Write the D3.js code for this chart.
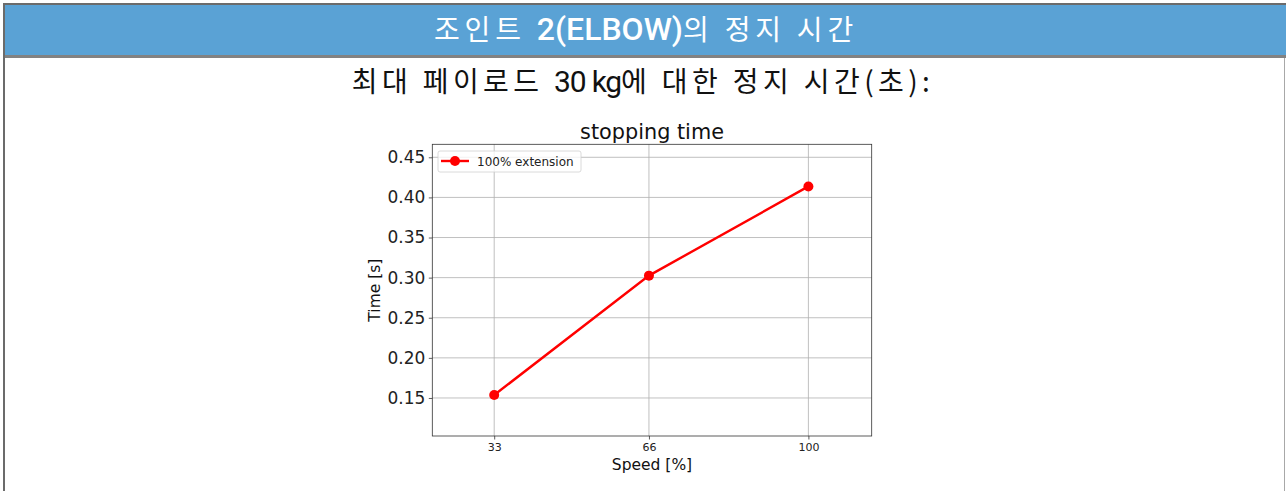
<!DOCTYPE html>
<html><head><meta charset="utf-8">
<script src="https://cdn.jsdelivr.net/npm/d3@7"></script>
<style>
html,body{margin:0;padding:0;background:#fff;overflow:hidden;}
</style></head>
<body>
<svg id="c" width="1286" height="491"></svg>
<script>
// header title pieces (Korean runs / Latin run)
const headerRuns = [["조인트 ", "ko"], ["2(ELBOW)", "la"], ["의 정지 시간", "ko"]];
const subRuns = [["최대 페이로드 ", "ko"], ["30 kg", "la"], ["에 대한 정지 시간(초):", "ko"]];
const chartTitle = "stopping time";
const speeds = [33, 66, 100];
const times = [0.1537, 0.3025, 0.4137];
const seriesName = "100% extension";
const yTicks = [0.15, 0.20, 0.25, 0.30, 0.35, 0.40, 0.45];
const xLabel = "Speed [%]";
const yLabel = "Time [s]";

const svg = d3.select("#c");
// page frame
svg.append("rect").attr("x",3).attr("y",3).attr("width",1283).attr("height",2).attr("fill","#6b6b6b");
svg.append("rect").attr("x",5).attr("y",5).attr("width",1281).attr("height",50).attr("fill","#5aa2d5");
svg.append("rect").attr("x",3).attr("y",55).attr("width",1283).attr("height",3).attr("fill","#828282");
svg.append("rect").attr("x",3).attr("y",3).attr("width",2).attr("height",488).attr("fill","#6b6b6b");
svg.append("rect").attr("x",1284).attr("y",58).attr("width",1).attr("height",433).attr("fill","#a8a8a8");

function runs(sel, data, opt) {
  sel.selectAll("tspan").data(data).join("tspan")
    .attr("font-family", d => d[1]==="ko" ? "'Noto Sans CJK KR', sans-serif" : "Roboto, sans-serif")
    .attr("font-size", d => d[1]==="ko" ? opt.ko : opt.la)
    .attr("font-weight", d => d[1]==="ko" ? 400 : opt.laW)
    .attr("letter-spacing", d => d[1]==="ko" ? opt.koLs : opt.laLs)
    .text(d => d[0]);
}
const ht = svg.append("text").attr("x",646).attr("y",40).attr("text-anchor","middle").attr("fill","#fff");
runs(ht, headerRuns, {ko:28, la:32, laW:500, koLs:4.8, laLs:0});
const st = svg.append("text").attr("x",643).attr("y",92).attr("text-anchor","middle").attr("fill","#111");
runs(st, subRuns, {ko:28, la:30, laW:400, koLs:4.4, laLs:-1.2});

// chart
const L=432.3, R=871.7, T=144.3, B=436;
const x = d3.scaleLinear().domain([19.8,113.5]).range([L,R]);
const y = d3.scaleLinear().domain([0.1026,0.4662]).range([B,T]);
const g = svg.append("g").attr("font-family","'DejaVu Sans', sans-serif");

// grid
g.selectAll(".gx").data(speeds).join("line").attr("x1",d=>x(d)).attr("x2",d=>x(d))
  .attr("y1",T).attr("y2",B).attr("stroke","#b0b0b0").attr("stroke-width",0.8);
g.selectAll(".gy").data(yTicks).join("line").attr("y1",d=>y(d)).attr("y2",d=>y(d))
  .attr("x1",L).attr("x2",R).attr("stroke","#b0b0b0").attr("stroke-width",0.8);

// axes
const yAxis = d3.axisLeft(y).tickValues(yTicks).tickFormat(d3.format(".2f")).tickSize(3.5).tickPadding(3.5);
const ya = g.append("g").attr("transform",`translate(${L},0)`).call(yAxis);
ya.select(".domain").remove();
ya.selectAll("line").attr("stroke","#333").attr("stroke-width",0.8);
ya.selectAll("text").attr("font-size",17).attr("fill","#222").attr("font-family","'DejaVu Sans', sans-serif");

const xAxis = d3.axisBottom(x).tickValues(speeds).tickFormat(d3.format("d")).tickSize(3.5).tickPadding(3.5);
const xa = g.append("g").attr("transform",`translate(0,${B})`).call(xAxis);
xa.select(".domain").remove();
xa.selectAll("line").attr("stroke","#333").attr("stroke-width",0.8);
xa.selectAll("text").attr("font-size",11).attr("fill","#222").attr("font-family","'DejaVu Sans', sans-serif");

g.append("rect").attr("x",L).attr("y",T).attr("width",R-L).attr("height",B-T)
  .attr("fill","none").attr("stroke","#333").attr("stroke-width",0.8);

// line
const line = d3.line().x((d,i)=>x(speeds[i])).y(d=>y(d));
g.append("path").datum(times).attr("d",line).attr("fill","none").attr("stroke","#ff0000").attr("stroke-width",2.4);
g.selectAll(".pt").data(times).join("circle").attr("cx",(d,i)=>x(speeds[i])).attr("cy",d=>y(d))
  .attr("r",5).attr("fill","#ff0000");

// titles
g.append("text").attr("x",(L+R)/2).attr("y",139).attr("text-anchor","middle").attr("font-size",20.8).attr("fill","#111").text(chartTitle);
g.append("text").attr("x",(L+R)/2).attr("y",470).attr("text-anchor","middle").attr("font-size",15.5).attr("fill","#111").text(xLabel);
g.append("text").attr("transform",`translate(380,${(T+B)/2}) rotate(-90)`).attr("text-anchor","middle").attr("font-size",15.5).attr("fill","#111").text(yLabel);

// legend
const lg = g.append("g");
lg.append("rect").attr("x",438).attr("y",151).attr("width",143).attr("height",21).attr("rx",2)
  .attr("fill","#fff").attr("fill-opacity",0.8).attr("stroke","#d0d0d0").attr("stroke-width",0.8);
lg.append("line").attr("x1",441).attr("x2",469).attr("y1",161).attr("y2",161).attr("stroke","#ff0000").attr("stroke-width",2.4);
lg.append("circle").attr("cx",455).attr("cy",161).attr("r",5).attr("fill","#ff0000");
lg.append("text").attr("x",477).attr("y",165.5).attr("font-size",12).attr("fill","#222").text(seriesName);
</script>
</body></html>
